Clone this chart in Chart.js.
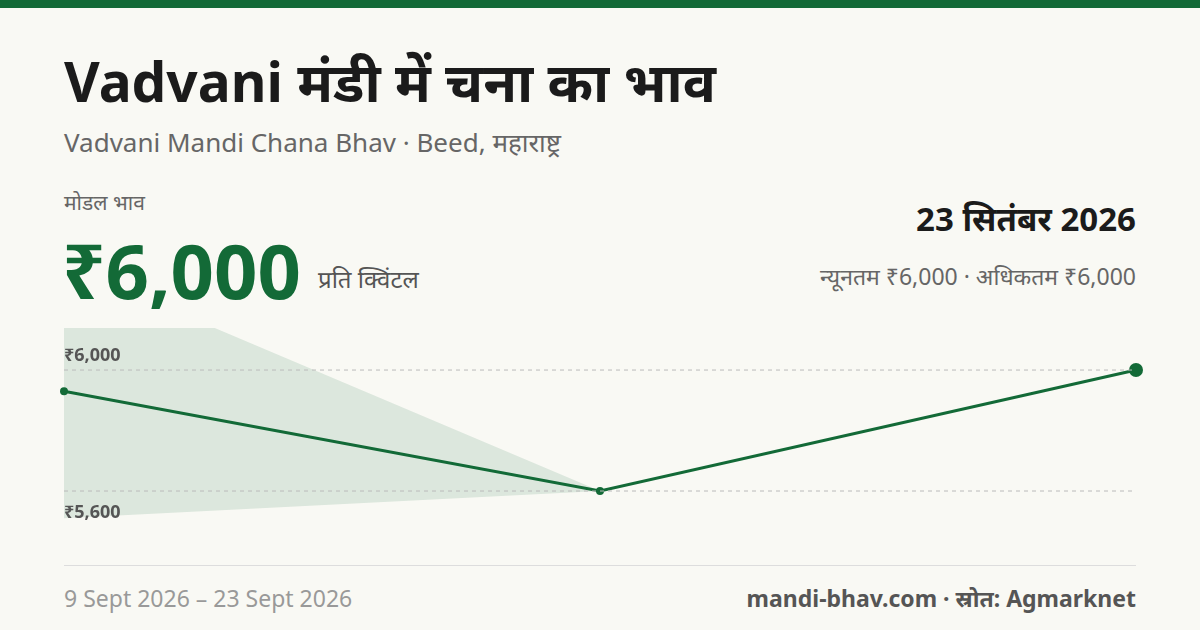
<!DOCTYPE html>
<html><head><meta charset="utf-8">
<script src="https://cdn.jsdelivr.net/npm/chart.js@4"></script>
<style>
body{margin:0;width:1200px;height:630px;background:#f9f9f4;font-family:"Noto Sans",sans-serif;position:relative;overflow:hidden}
.bar{position:absolute;left:0;top:0;width:1200px;height:8px;background:#136a37}
.t{position:absolute;white-space:nowrap}
#wrap{position:absolute;left:57px;top:321px;width:1086px;height:226px}
</style></head><body>
<div class="bar"></div>
<div class="t" style="left:64px;top:48px;font-size:55px;font-weight:700;color:#1b1b1b;line-height:1.2">Vadvani मंडी में चना का भाव</div>
<div class="t" style="left:64px;top:124px;font-size:26px;color:#666">Vadvani Mandi Chana Bhav · Beed, महाराष्ट्र</div>
<div class="t" style="left:64px;top:188px;font-size:21px;color:#666">मोडल भाव</div>
<div class="t" style="left:62px;top:218px;font-size:76px;font-weight:700;color:#136a37">₹6,000</div>
<div class="t" style="left:318px;top:262px;font-size:24px;color:#555">प्रति क्विंटल</div>
<div class="t" style="right:64px;top:196px;font-size:33px;font-weight:700;color:#1b1b1b">23 सितंबर 2026</div>
<div class="t" style="right:64px;top:260px;font-size:23px;color:#666">न्यूनतम ₹6,000 · अधिकतम ₹6,000</div>
<div style="position:absolute;left:64px;top:565px;width:1072px;height:1px;background:#ddd"></div>
<div class="t" style="left:64px;top:582px;font-size:23px;color:#999">9 Sept 2026 – 23 Sept 2026</div>
<div class="t" style="right:64px;top:582px;font-size:23px;font-weight:700;color:#555">mandi-bhav.com · स्रोत: Agmarknet</div>
<div id="wrap"><canvas id="c"></canvas></div>
<script>
const labels=["9 Sept 2026","16 Sept 2026","23 Sept 2026"];
const modal=[5930,5600,6000];
const minP=[5510,5600,6000];
const maxP=[6350,5600,6000];
const tickVals=[5600,6000];
const tickLabels=["₹5,600","₹6,000"];
const tickPlugin={id:'tl',afterDatasetsDraw(ch){const c=ch.ctx,y=ch.scales.y,a=ch.chartArea;c.save();
tickVals.forEach((v,i)=>{const p=y.getPixelForValue(v);c.strokeStyle='#bbb';c.setLineDash([4,4]);c.lineWidth=1;c.beginPath();c.moveTo(a.left,p);c.lineTo(a.right,p);c.stroke();
c.setLineDash([]);c.fillStyle='#555';c.font='bold 18px "Noto Sans"';c.textBaseline='bottom';c.fillText(tickLabels[i],a.left,i==0?p+31:p-5);});c.restore();}};
new Chart(document.getElementById('c'),{type:'line',data:{labels,datasets:[
{data:maxP,borderWidth:0,pointRadius:0,fill:'+1',backgroundColor:'rgba(19,106,55,0.12)'},
{data:minP,borderWidth:0,pointRadius:0,fill:false},
{data:modal,borderColor:'#136a37',borderWidth:3,pointBackgroundColor:'#136a37',pointBorderWidth:0,pointRadius:[4,4,7]}
]},options:{responsive:true,maintainAspectRatio:false,animation:false,layout:{padding:0},
plugins:{legend:{display:false},tooltip:{enabled:false}},
scales:{x:{display:false,offset:false},y:{display:false,min:5438,max:6139}}},plugins:[tickPlugin]});
</script></body></html>
